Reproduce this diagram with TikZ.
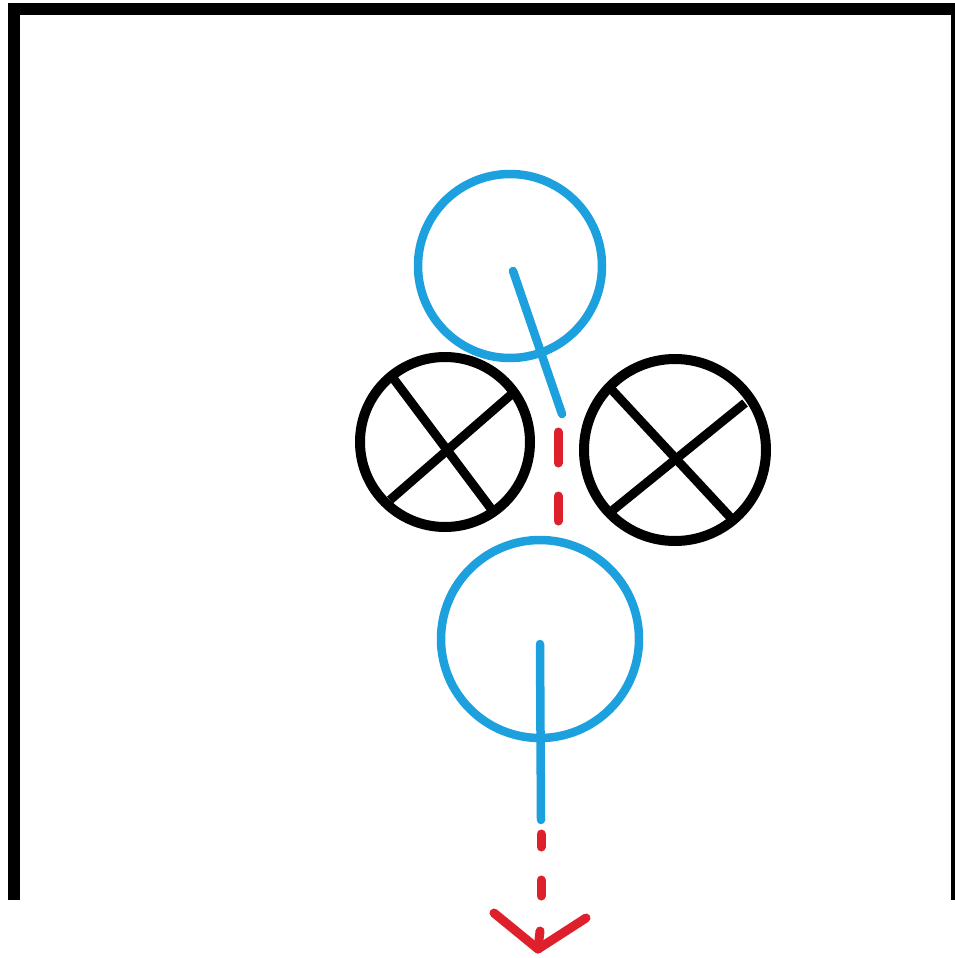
\documentclass[tikz,border=0pt]{standalone}
\definecolor{skyblue}{RGB}{28,160,222}
\definecolor{dashred}{RGB}{222,32,44}
\begin{document}
\begin{tikzpicture}[x=1pt,y=-1pt,
  frame/.style={line width=12pt,black},
  bluering/.style={circle,draw=skyblue,line width=8.5pt,inner sep=0pt},
  blackring/.style={circle,draw=black,line width=10pt,inner sep=0pt},
  crossline/.style={line width=9pt,black},
  blueline/.style={line width=8.5pt,skyblue,line cap=round},
  redline/.style={line width=9pt,dashred,line cap=round},
]
\useasboundingbox (0,0) rectangle (955,958);
% frame
\coordinate (fbl) at (13.5,900);
\coordinate (ftl) at (13.5,9);
\coordinate (ftr) at (957,9);
\coordinate (fbr) at (957,900);
\draw[frame] (fbl) -- (ftl) -- (ftr) -- (fbr);
% blue rings
\node[bluering,minimum size=184pt] (topring) at (510,266) {};
\node[bluering,minimum size=198pt] (botring) at (540,639) {};
% black rings
\node[blackring,minimum size=170pt] (leftring) at (445,442) {};
\node[blackring,minimum size=182pt] (rightring) at (675,450) {};
% crosses
\coordinate (la1) at (390,374);
\coordinate (la2) at (492,510);
\coordinate (lb1) at (513,393);
\coordinate (lb2) at (390,500);
\draw[crossline] (la1) -- (la2);
\draw[crossline] (lb1) -- (lb2);
\coordinate (ra1) at (612,390);
\coordinate (ra2) at (730,517);
\coordinate (rb1) at (745,403);
\coordinate (rb2) at (613,510);
\draw[crossline] (ra1) -- (ra2);
\draw[crossline] (rb1) -- (rb2);
% upper arm
\coordinate (topc) at (513,271);
\coordinate (topend) at (562,414);
\draw[blueline] (topc) -- (topend);
\coordinate (ud1) at (558,432);
\coordinate (ud2) at (558,521);
\draw[redline,dash pattern=on 31pt off 33pt] (ud1) -- (ud2);
% lower arm
\coordinate (botc) at (540,644);
\coordinate (botend) at (541,820);
\draw[blueline] (botc) -- (botend);
\coordinate (ld1) at (541,834);
\coordinate (ld2) at (541,896);
\draw[redline,dash pattern=on 13pt off 33pt on 16pt off 30pt] (ld1) -- (ld2);
\coordinate (stem) at (540,931);
\coordinate (tip) at (538,949);
\coordinate (armL) at (494,913);
\coordinate (armR) at (586,918);
\draw[redline,line join=round] (armL) -- (tip) -- (armR);
\draw[redline] (stem) -- (tip);
\end{tikzpicture}
\end{document}
